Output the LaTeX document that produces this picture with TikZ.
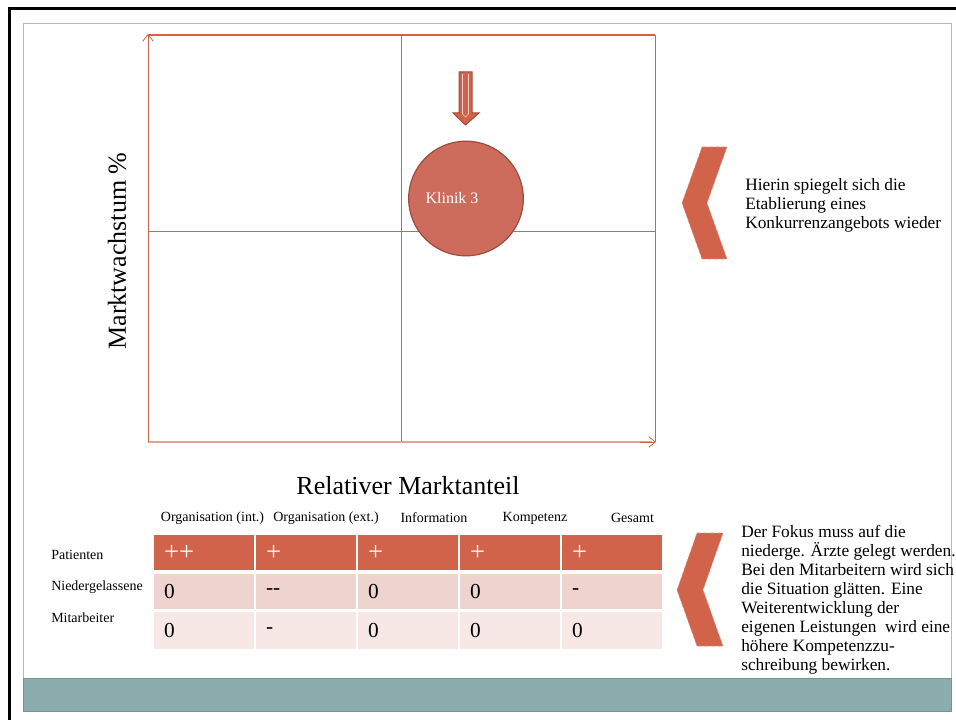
\documentclass[tikz,border=0pt]{standalone}
\usepackage{fontspec}
\setmainfont{Liberation Serif}
\usetikzlibrary{arrows.meta}
\definecolor{portred}{HTML}{D0634A}
\definecolor{portpink}{HTML}{EFD3CF}
\definecolor{portrose}{HTML}{F7E8E6}
\definecolor{bubblefill}{HTML}{CD6B5C}
\definecolor{bubbleline}{HTML}{A04A3C}
\definecolor{slateband}{HTML}{8BADAD}
\definecolor{slateline}{HTML}{A8BFBF}
\tikzset{
	cell/.style={inner xsep=7.5pt, inner ysep=0pt, text width=60pt, align=left, minimum height=26.25pt, font=\fontsize{16}{16}\selectfont},
	pluscell/.style={cell, fill=portred, text=white, font=\fontsize{20}{20}\selectfont},
	headlabel/.style={font=\fontsize{10.5}{12}\selectfont, inner sep=0pt},
	sidetext/.style={font=\fontsize{13}{14.25}\selectfont, align=left, anchor=west, inner sep=0pt},
	axisarrow/.style={-{Straight Barb[length=5pt, width=8pt]}}
}

\begin{document}
\begin{tikzpicture}[x=0.75pt, y=-0.75pt]
		%%%%% START %%%%%
		\useasboundingbox (0,0) rectangle (956,720);
		
		% slide frame
		\draw[line width=2.25pt] (9,721) -- (9,9) -- (957,9);
		\draw[slateline, line width=0.75pt] (23,678) -- (23,24) -- (951,24) -- (951,678);
		\draw[fill=slateband, draw=slateband!85!black, line width=0.5pt] (23,678) rectangle (951,711);
		
		% portfolio matrix
		\draw[portred, line width=1.5pt] (148,35) -- (655,35);
		\draw[portred, line width=0.75pt] (655,35) -- (655,442);
		\draw[portred, line width=0.6pt] (401,35) -- (401,442);
		\draw[portred, line width=0.6pt] (148,231) -- (655,231);
		\draw[portred!60!white, line width=1.5pt] (148,442) -- (652,442);
		\draw[portred, line width=0.6pt, axisarrow] (148,442) -- (148,34);
		\draw[portred, line width=0.6pt, axisarrow] (640,442) -- (656,442);
		
		\node[font=\fontsize{19.5}{20}\selectfont, rotate=90] (growth) at (117,251) {Marktwachstum \%};
		\node[font=\fontsize{19.5}{20}\selectfont] (share) at (408,486) {Relativer Marktanteil};
		
		% clinic bubble and arrow
		\draw[fill=portred, draw=bubbleline, line width=0.75pt] (459,72) -- (472,72) -- (472,113) -- (479,113) -- (465.5,125) -- (453,113) -- (459,113) -- cycle;
		\draw[white!70!portred, line width=0.4pt] (462.5,74) -- (462.5,114) -- (465.5,117) -- (468.5,114) -- (468.5,74);
		\node[circle, fill=bubblefill, draw=bubbleline, line width=0.9pt, minimum size=86pt, inner sep=0pt] (klinik) at (466,198.5) {};
		\node[white, font=\fontsize{12}{12}\selectfont] (klinik name) at (452,198) {Klinik 3};
		
		% chevrons
		\draw[fill=portred, draw=portred!70!white, densely dashed, line width=0.4pt] (702,147) -- (727,147) -- (707,203) -- (727,259) -- (702,259) -- (682,203) -- cycle;
		\draw[fill=portred, draw=portred!70!white, densely dashed, line width=0.4pt] (697,533) -- (723,533) -- (703,590) -- (723,646) -- (697,646) -- (677,590) -- cycle;
		
		\node[sidetext] (note top) at (745,205) {Hierin spiegelt sich die\\Etablierung eines\\Konkurrenzangebots wieder};
		\node[sidetext] (note bottom) at (741,600) {Der Fokus muss auf die\\niederge. Ärzte gelegt werden.\\Bei den Mitarbeitern wird sich\\die Situation glätten. Eine\\Weiterentwicklung der\\eigenen Leistungen\ \ wird eine\\höhere Kompetenzzu-\\schreibung bewirken.};
		
		% table head
		\node[headlabel] (h org int) at (212.5,518) {Organisation (int.)};
		\node[headlabel] (h org ext) at (326,518) {Organisation (ext.)};
		\node[headlabel] (h info) at (434,518) {Information};
		\node[headlabel] (h komp) at (535,518) {Kompetenz};
		\node[headlabel] (h gesamt) at (632.5,518) {Gesamt};
		
		\node[headlabel, anchor=west] (r pat) at (51,555) {Patienten};
		\node[headlabel, anchor=west] (r nied) at (51,587) {Niedergelassene};
		\node[headlabel, anchor=west] (r mit) at (51,618) {Mitarbeiter};
		
		% table cells
		\node[pluscell] (pat1) at (204,552.5) {++};
		\node[pluscell] (pat2) at (306,552.5) {+};
		\node[pluscell] (pat3) at (408,552.5) {+};
		\node[pluscell] (pat4) at (510,552.5) {+};
		\node[pluscell] (pat5) at (612,552.5) {+};
		
		\node[cell, fill=portpink] (nied1) at (204,591.5) {0};
		\node[cell, fill=portpink] (nied2) at (306,591.5) {\raisebox{-1.5pt}{\mbox{-}\mbox{-}}};
		\node[cell, fill=portpink] (nied3) at (408,591.5) {0};
		\node[cell, fill=portpink] (nied4) at (510,591.5) {0};
		\node[cell, fill=portpink] (nied5) at (612,591.5) {\raisebox{-1.5pt}{-}};
		
		\node[cell, fill=portrose, minimum height=27.75pt] (mit1) at (204,630.5) {0};
		\node[cell, fill=portrose, minimum height=27.75pt] (mit2) at (306,630.5) {\raisebox{-1.5pt}{-}};
		\node[cell, fill=portrose, minimum height=27.75pt] (mit3) at (408,630.5) {0};
		\node[cell, fill=portrose, minimum height=27.75pt] (mit4) at (510,630.5) {0};
		\node[cell, fill=portrose, minimum height=27.75pt] (mit5) at (612,630.5) {0};
		
		%%%%% END %%%%%
	\end{tikzpicture}
\end{document}
